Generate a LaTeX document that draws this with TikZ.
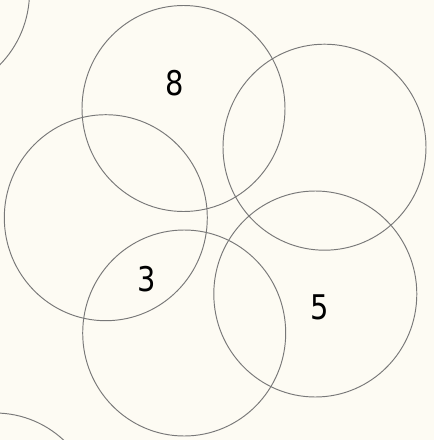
\documentclass[tikz,border=0pt]{standalone}
\usepackage{fontspec}
\newfontfamily\numfont[FakeStretch=0.85]{DejaVu Sans}
\usepackage{tikz}
\definecolor{paper}{RGB}{253,251,243}
\definecolor{ringgray}{RGB}{120,120,120}

\begin{document}
\begin{tikzpicture}[x=1pt,y=-1pt,
		ring/.style={draw=ringgray, line width=0.95pt},
		numnode/.style={inner sep=0pt, font=\numfont\fontsize{34}{34}\selectfont}]

		\fill[paper] (0,0) rectangle (434,440);
		\useasboundingbox (0,0) rectangle (434,440);

		\coordinate (a) at (183.5, 108.5);
		\coordinate (b) at (324.5, 147.2);
		\coordinate (c) at (105.8, 217.7);
		\coordinate (d) at (184.2, 333);
		\coordinate (e) at (315.3, 294);
		\coordinate (tl) at (-72, -8);
		\coordinate (bl) at (-5, 516);

		\foreach \p in {a,b,c,d,e,tl,bl}
			\draw[ring] (\p) ellipse [x radius=101.5, y radius=103];

		\node[numnode] (n8) at (174.5, 83.5) {8};
		\node[numnode] (n3) at (146.5, 279) {3};
		\node[numnode] (n5) at (320, 307) {5};

\end{tikzpicture}
\end{document}
